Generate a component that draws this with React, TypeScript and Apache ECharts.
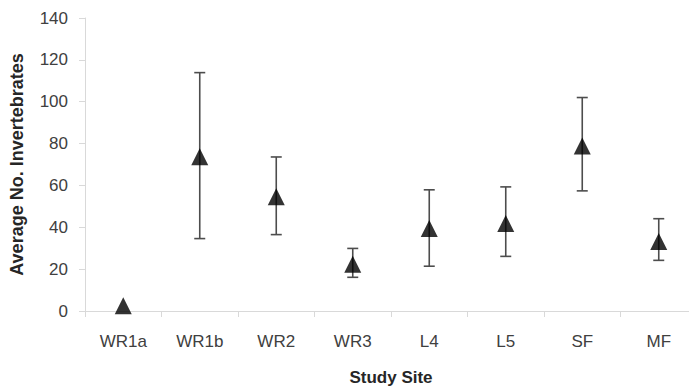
import React, { useEffect, useRef } from "react";
import * as echarts from "echarts";

const categories = ["WR1a", "WR1b", "WR2", "WR3", "L4", "L5", "SF", "MF"];
const means = [2.5, 73.7, 54.6, 22.3, 39.4, 41.8, 78.8, 33.2];
const lowers = [2.5, 34.6, 36.5, 16.1, 21.4, 26.1, 57.4, 24.2];
const uppers = [2.5, 113.9, 73.6, 29.9, 57.9, 59.3, 102, 44.1];
const yTicks = [0, 20, 40, 60, 80, 100, 120, 140];

const FONT = "'Liberation Sans', Arial, sans-serif";

export default function App() {
  const ref = useRef<HTMLDivElement>(null);
  useEffect(() => {
    if (!ref.current) return;
    const chart = echarts.init(ref.current, undefined, { renderer: "svg" });
    const errData = categories.map((_, i) => [i, lowers[i], uppers[i]]);
    chart.setOption({
      animation: false,
      backgroundColor: "#ffffff",
      grid: { left: 84, top: 18, width: 621, height: 295 },
      xAxis: {
        type: "category",
        data: categories,
        boundaryGap: true,
        name: "Study Site",
        nameLocation: "middle",
        nameGap: 58,
        nameTextStyle: { fontFamily: FONT, fontSize: 17, fontWeight: "bold", color: "#262626" },
        axisLine: { lineStyle: { color: "#d9d9d9", width: 1 } },
        axisTick: { show: true, interval: 0, length: 6, lineStyle: { color: "#d9d9d9" } },
        axisLabel: { interval: 0, margin: 22, fontFamily: FONT, fontSize: 17, color: "#404040" },
        splitLine: { show: false },
      },
      yAxis: {
        type: "value",
        min: yTicks[0],
        max: yTicks[yTicks.length - 1],
        interval: 20,
        name: "Average No. Invertebrates",
        nameLocation: "middle",
        nameGap: 59,
        nameTextStyle: { fontFamily: FONT, fontSize: 18, fontWeight: "bold", color: "#262626" },
        axisLine: { show: true, lineStyle: { color: "#d9d9d9", width: 1 } },
        axisTick: { show: true, length: 6, lineStyle: { color: "#d9d9d9" } },
        axisLabel: { margin: 17, fontFamily: FONT, fontSize: 17, color: "#404040" },
        splitLine: { show: false },
      },
      series: [
        {
          type: "custom",
          data: errData,
          z: 2,
          renderItem: (params: any, api: any) => {
            const x = api.value(0);
            const lo = api.coord([x, api.value(1)]);
            const hi = api.coord([x, api.value(2)]);
            if (Math.abs(lo[1] - hi[1]) < 1) return { type: "group", children: [] };
            const hw = 5.5;
            const style = { stroke: "#4d4d4d", lineWidth: 1.6 };
            return {
              type: "group",
              children: [
                { type: "line", shape: { x1: lo[0], y1: lo[1], x2: hi[0], y2: hi[1] }, style },
                { type: "line", shape: { x1: hi[0] - hw, y1: hi[1], x2: hi[0] + hw, y2: hi[1] }, style },
                { type: "line", shape: { x1: lo[0] - hw, y1: lo[1], x2: lo[0] + hw, y2: lo[1] }, style },
              ],
            };
          },
        },
        {
          type: "scatter",
          data: means,
          symbol: "triangle",
          symbolSize: [17, 17],
          itemStyle: { color: "#000000" },
          z: 3,
        },
      ],
    });
    return () => chart.dispose();
  }, []);
  return <div ref={ref} style={{ width: 697, height: 391, marginLeft: -8, marginTop: -8 }} />;
}
